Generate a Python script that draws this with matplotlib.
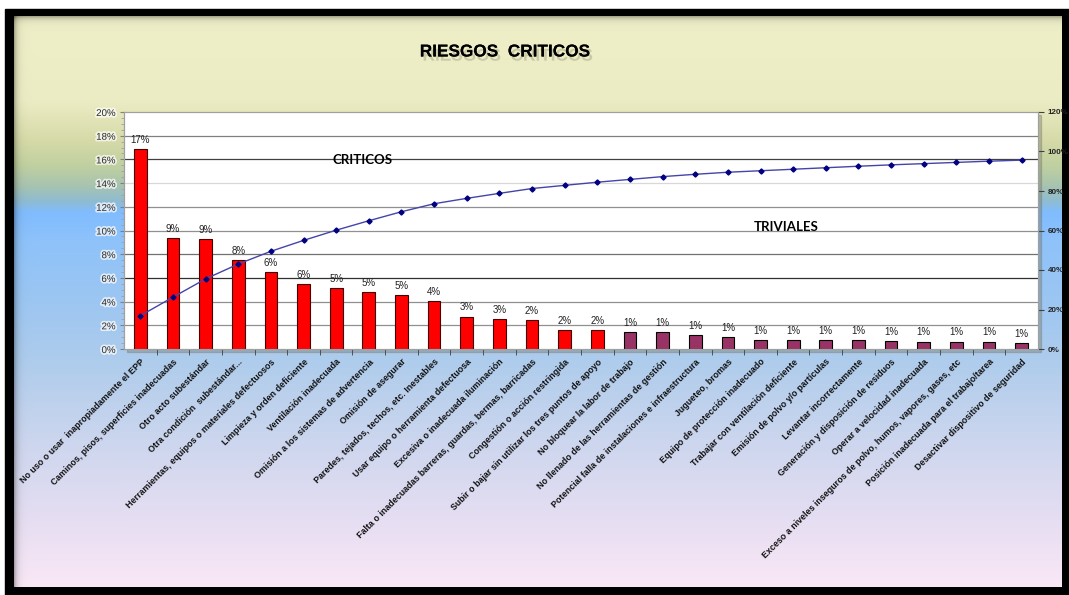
import numpy as np
import matplotlib.pyplot as plt
import matplotlib.patheffects as pe
from matplotlib.colors import to_rgb
from matplotlib.patches import Rectangle
from matplotlib.ticker import PercentFormatter, FixedLocator

# risk categories, sorted by share of observations
riesgos = [
    'No uso o usar  inapropiadamente el EPP',
    'Caminos, pisos, superficies inadecuadas',
    'Otro acto subestándar',
    'Otra condición  subestándar...',
    'Herramientas, equipos o materiales defectuosos',
    'Limpieza y orden deficiente',
    'Ventilación inadecuada',
    'Omisión a los sistemas de advertencia',
    'Omisión de asegurar',
    'Paredes, tejados, techos, etc. Inestables',
    'Usar equipo o herramienta defectuosa',
    'Excesiva o inadecuada iluminación',
    'Falta o inadecuadas barreras, guardas, bermas, barricadas',
    'Congestión o acción restringida',
    'Subir o bajar sin utilizar los tres puntos de apoyo',
    'No bloquear la labor de trabajo',
    'No llenado de las herramientas de gestión',
    'Potencial falla de instalaciones e infraestructura',
    'Jugueteo, bromas',
    'Equipo de protección inadecuado',
    'Trabajar con ventilación deficiente',
    'Emisión de polvo y/o partículas',
    'Levantar incorrectamente',
    'Generación y disposición de residuos',
    'Operar a velocidad inadecuada',
    'Exceso a niveles inseguros de polvo, humos, vapores, gases, etc',
    'Posición inadecuada para el trabajo/tarea',
    'Desactivar dispositivo de seguridad',
]
porcentaje = [16.85, 9.39, 9.26, 7.51, 6.47, 5.51, 5.17, 4.78, 4.56, 4.05,
              2.73, 2.53, 2.45, 1.60, 1.60, 1.41, 1.41, 1.18, 1.04, 0.76,
              0.76, 0.76, 0.76, 0.70, 0.62, 0.62, 0.62, 0.53]
n_criticos = 15

acumulado = np.cumsum(porcentaje)
x = np.arange(len(riesgos))

W, H = 1069, 595
fig = plt.figure(figsize=(W / 100, H / 100), dpi=100)
plt.rcParams['font.family'] = ['Liberation Sans', 'DejaVu Sans']

# background: black frame with a vertical colour gradient inside
bg = fig.add_axes([0, 0, 1, 1], zorder=-2)
bg.add_patch(Rectangle((5, 9), W - 5, H - 9, color='black', zorder=1))

fx0, fx1, fy0, fy1 = 14, 1062, 16, 587
stops = [(16, '#EEEEC8'), (100, '#ECECC4'), (115, '#E4E6BA'), (140, '#D6DAA8'),
         (165, '#C0D0A0'), (185, '#A8C4B0'), (200, '#90BCD0'), (212, '#80BCFF'),
         (240, '#8EC2FA'), (300, '#9CC6F2'), (360, '#AECCEC'), (440, '#CCD6EE'),
         (520, '#E6DEF2'), (587, '#FAE8F6')]
rows = np.arange(fy0, fy1)
cols = np.arange(fx0, fx1)
sy = [s[0] for s in stops]
base = np.stack([np.interp(rows, sy, [to_rgb(s[1])[k] for s in stops]) for k in range(3)], axis=1)
shade = 0.3 * np.exp(-(rows[:, None] - fy0) / 3.0) + 0.3 * np.exp(-(cols[None, :] - fx0) / 3.0)
img = base[:, None, :] * (1 - np.clip(shade, 0, 0.6))[:, :, None]
bg.imshow(img, extent=(fx0, fx1, fy1, fy0), aspect='auto', interpolation='bilinear', zorder=2)

# plot area and its soft shadow
px0, px1, py0, py1 = 124, 1038, 112, 349
bg.add_patch(Rectangle((px0 + 3, py0 + 3), px1 - px0, py1 - py0, color='#707060',
                       alpha=0.35, zorder=3))
bg.set_xlim(0, W)
bg.set_ylim(H, 0)
bg.axis('off')

ax = fig.add_axes([px0 / W, 1 - py1 / H, (px1 - px0) / W, (py1 - py0) / H])
ax.set_facecolor('white')
ax.set_xlim(-0.5, len(riesgos) - 0.5)
ax.set_ylim(0, 20)

grid_shades = ['#909090', '#909090', '#303030', '#707070', '#909090',
               '#909090', '#d8d8d8', '#404040', '#808080']
for val, c in zip(range(2, 20, 2), grid_shades):
    ax.axhline(val, color=c, lw=0.9, zorder=0)

colores = ['#FF0000' if i < n_criticos else '#993366' for i in range(len(riesgos))]
bordes = ['#400000' if i < n_criticos else '#000000' for i in range(len(riesgos))]
bars = ax.bar(x, porcentaje, width=0.39, color=colores, edgecolor=bordes, linewidth=0.8, zorder=2)
for b, v in zip(bars, porcentaje):
    ax.annotate('%.0f%%' % v, (b.get_x() + b.get_width() / 2, v), xytext=(0, 3),
                textcoords='offset points', ha='center', va='bottom',
                fontsize=7, color='#222222')

ax.yaxis.set_major_locator(FixedLocator(np.arange(0, 21, 2)))
ax.yaxis.set_minor_locator(FixedLocator(np.arange(0, 20.1, 0.5)))
ax.yaxis.set_major_formatter(PercentFormatter(decimals=0))
ax.tick_params(axis='y', which='major', labelsize=7, length=3, color='#808080',
               labelcolor='#333333', pad=3)
ax.tick_params(axis='y', which='minor', length=2, color='#a0a0a0')
for t in ax.get_yticklabels():
    t.set_path_effects([pe.withStroke(linewidth=2.5, foreground='white', alpha=0.7)])

ax.set_xticks(x)
ax.set_xticklabels(riesgos, rotation=45, ha='right', rotation_mode='anchor',
                   fontsize=6.4, fontweight='bold', color='#111111')
ax.xaxis.set_minor_locator(FixedLocator(np.arange(0.5, len(riesgos) - 1, 1)))
ax.tick_params(axis='x', which='major', length=0, pad=6)
ax.tick_params(axis='x', which='minor', length=4, color='#404040')
for s in ax.spines.values():
    s.set_color('#a0a0a0')

# cumulative share on the secondary axis
ax2 = ax.twinx()
ax2.set_ylim(0, 120)
ax2.plot(x, acumulado, color='#4444AA', lw=1.0, marker='D', markersize=2.6,
         markerfacecolor='#000080', markeredgecolor='#000080', zorder=3)
ax2.yaxis.set_major_locator(FixedLocator(np.arange(0, 121, 20)))
ax2.yaxis.set_major_formatter(PercentFormatter(decimals=0))
ax2.tick_params(axis='y', labelsize=5.8, length=4, color='#404040', labelcolor='#222222', pad=3)
for t in ax2.get_yticklabels():
    t.set_fontweight('bold')
for s in ax2.spines.values():
    s.set_color('#a0a0a0')

fig.text(363 / W, 1 - 160 / H, 'CRITICOS', fontsize=9.5, fontweight='bold',
         family=['Lato', 'DejaVu Sans'], ha='center', va='center')
fig.text(786 / W, 1 - 227 / H, 'TRIVIALES', fontsize=9.5, fontweight='bold',
         family=['Lato', 'DejaVu Sans'], ha='center', va='center')

fig.text(505 / W, 1 - 52 / H, 'RIESGOS  CRITICOS', fontsize=12.4, fontweight='bold',
         ha='center', va='center',
         path_effects=[pe.withSimplePatchShadow(offset=(2, -3), shadow_rgbFace='#888870', alpha=0.35),
                       pe.Normal()])

fig.savefig('out.png', dpi=100)
